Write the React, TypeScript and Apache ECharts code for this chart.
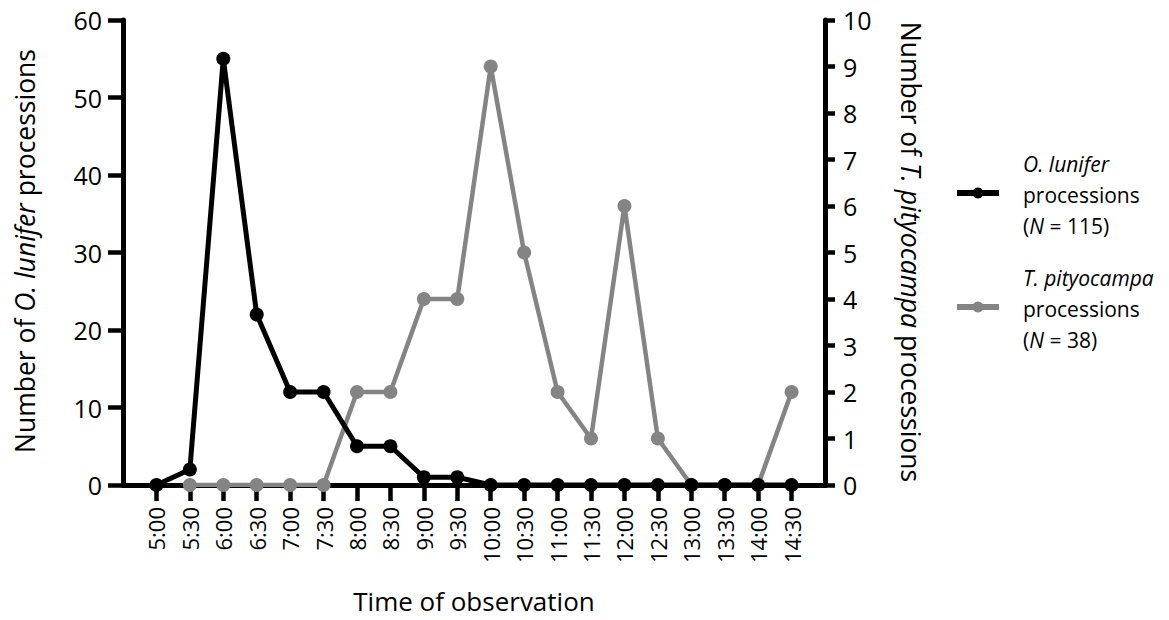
import React, { useEffect, useRef } from "react";
import * as echarts from "echarts";

const times = ["5:00","5:30","6:00","6:30","7:00","7:30","8:00","8:30","9:00","9:30","10:00","10:30","11:00","11:30","12:00","12:30","13:00","13:30","14:00","14:30"];
const lunifer: (number | null)[] = [0,2,55,22,12,12,5,5,1,1,0,0,0,0,0,0,0,0,0,0];
const pityocampa: (number | null)[] = [null,0,0,0,0,0,2,2,4,4,9,5,2,1,6,1,0,0,0,2];
const leftTicks = { min: 0, max: 60, interval: 10 };
const rightTicks = { min: 0, max: 10, interval: 1 };

const FONT = "Open Sans";
const BLACK = "#000000";
const GRAY = "#848484";

export default function App() {
  const ref = useRef<HTMLDivElement>(null);
  useEffect(() => {
    if (!ref.current) return;
    const chart = echarts.init(ref.current, undefined, { renderer: "svg" });
    const cats = ["", ...times, ""];
    const pad = (a: (number | null)[]) => [null, ...a, null];
    const n = cats.length;
    const axisLine = { show: true, lineStyle: { color: BLACK, width: 5 } };
    const italic = (size: number) => ({ fontStyle: "italic", fontFamily: FONT, fontSize: size, color: BLACK });
    const norm = (size: number) => ({ fontFamily: FONT, fontSize: size, color: BLACK });
    chart.setOption({
      animation: false,
      backgroundColor: "#ffffff",
      grid: { left: 123, right: 344, top: 20, bottom: 135, containLabel: false },
      xAxis: {
        type: "category",
        data: cats,
        boundaryGap: false,
        axisLine,
        axisTick: {
          show: true,
          length: 16,
          interval: (i: number) => i > 0 && i < n - 1,
          lineStyle: { color: BLACK, width: 4.5 },
        },
        axisLabel: { interval: 0, rotate: 90, margin: 22, fontFamily: FONT, fontSize: 22, color: BLACK },
        splitLine: { show: false },
      },
      yAxis: [
        {
          type: "value",
          position: "left",
          ...leftTicks,
          axisLine,
          axisTick: { show: true, length: 15, lineStyle: { color: BLACK, width: 4.5 } },
          axisLabel: { margin: 21, fontFamily: FONT, fontSize: 25, color: BLACK },
          splitLine: { show: false },
        },
        {
          type: "value",
          position: "right",
          ...rightTicks,
          axisLine,
          axisTick: { show: true, length: 10, lineStyle: { color: BLACK, width: 4.5 } },
          axisLabel: { margin: 18, fontFamily: FONT, fontSize: 25, color: BLACK },
          splitLine: { show: false },
        },
      ],
      series: [
        {
          name: "T. pityocampa processions (N = 38)",
          type: "line",
          yAxisIndex: 1,
          data: pad(pityocampa),
          symbol: "circle",
          symbolSize: 14,
          showSymbol: true,
          lineStyle: { color: GRAY, width: 4.5 },
          itemStyle: { color: GRAY },
          z: 2,
        },
        {
          name: "O. lunifer processions (N = 115)",
          type: "line",
          yAxisIndex: 0,
          data: pad(lunifer),
          symbol: "circle",
          symbolSize: 14,
          showSymbol: true,
          lineStyle: { color: BLACK, width: 5 },
          itemStyle: { color: BLACK },
          z: 3,
        },
      ],
      graphic: [
        {
          type: "text",
          x: 25,
          y: 251,
          rotation: Math.PI / 2,
          style: {
            text: "Number of {i|O. lunifer} processions",
            align: "center",
            verticalAlign: "middle",
            ...norm(26.5),
            rich: { i: italic(26.5) },
          },
        },
        {
          type: "text",
          x: 911,
          y: 252,
          rotation: -Math.PI / 2,
          style: {
            text: "Number of {i|T. pityocampa} processions",
            align: "center",
            verticalAlign: "middle",
            ...norm(26.5),
            rich: { i: italic(26.5) },
          },
        },
        {
          type: "text",
          x: 474,
          y: 601,
          style: {
            text: "Time of observation",
            align: "center",
            verticalAlign: "middle",
            ...norm(26),
          },
        },
        // legend
        { type: "line", shape: { x1: 957, y1: 193, x2: 999, y2: 193 }, style: { stroke: BLACK, lineWidth: 6 } },
        { type: "circle", shape: { cx: 978, cy: 193, r: 5.5 }, style: { fill: BLACK } },
        {
          type: "text",
          x: 1023,
          y: 195,
          style: {
            text: "{i|O. lunifer}\n{n|processions}\n{n|(}{i|N}{n| = 115)}",
            align: "left",
            verticalAlign: "middle",
            ...norm(21),
            lineHeight: 31,
            rich: { i: { ...italic(21), lineHeight: 31 }, n: { ...norm(21), lineHeight: 31 } },
          },
        },
        { type: "line", shape: { x1: 957, y1: 307, x2: 999, y2: 307 }, style: { stroke: GRAY, lineWidth: 6 } },
        { type: "circle", shape: { cx: 978, cy: 307, r: 5.5 }, style: { fill: GRAY } },
        {
          type: "text",
          x: 1023,
          y: 309,
          style: {
            text: "{i|T. pityocampa}\n{n|processions}\n{n|(}{i|N}{n| = 38)}",
            align: "left",
            verticalAlign: "middle",
            ...norm(21),
            lineHeight: 31,
            rich: { i: { ...italic(21), lineHeight: 31 }, n: { ...norm(21), lineHeight: 31 } },
          },
        },
      ],
    });
    return () => chart.dispose();
  }, []);
  return (
    <div
      ref={ref}
      style={{ position: "fixed", left: 0, top: 0, width: 1169, height: 620, background: "#fff" }}
    />
  );
}
